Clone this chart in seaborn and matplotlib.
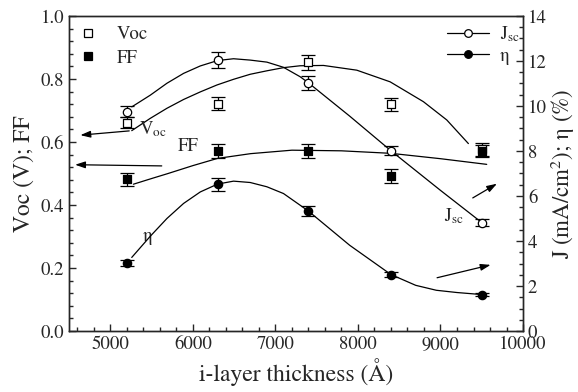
import numpy as np
import pandas as pd
import matplotlib
matplotlib.use('Agg')
import matplotlib.pyplot as plt
from matplotlib.lines import Line2D
from matplotlib.ticker import MultipleLocator, FormatStrFormatter
import seaborn as sns

# measured points (i-layer thickness in Angstrom)
thickness = [5200, 6300, 7400, 8400, 9500]
voc = [0.661, 0.722, 0.853, 0.720, 0.577]
voc_err = [0.018, 0.020, 0.024, 0.021, 0.020]
ff = [0.481, 0.572, 0.572, 0.492, 0.572]
ff_err = [0.020, 0.022, 0.022, 0.021, 0.020]
jsc = [9.74, 12.04, 11.03, 8.01, 4.82]
jsc_err = [0.24, 0.36, 0.31, 0.21, 0.15]
eta = [3.03, 6.53, 5.33, 2.51, 1.62]
eta_err = [0.13, 0.29, 0.24, 0.13, 0.06]

# guide curves
voc_fit_x = [5260, 5484, 5686, 5888, 6090, 6292, 6493, 6695, 6897, 7098, 7300,
             7583, 7986, 8390, 8793, 9076, 9338]
voc_fit_y = [0.636, 0.675, 0.707, 0.735, 0.759, 0.781, 0.799, 0.815, 0.826, 0.836, 0.842,
             0.843, 0.828, 0.791, 0.728, 0.670, 0.595]
ff_fit_x = [5280, 5500, 5700, 6000, 6300, 6700, 7200, 7800, 8400, 9000, 9560]
ff_fit_y = [0.466, 0.484, 0.500, 0.525, 0.548, 0.563, 0.574, 0.572, 0.564, 0.547, 0.529]
jsc_fit_x = [5260, 5484, 5686, 5888, 6090, 6300, 6493, 6695, 6897, 7098, 7300, 7400,
             7900, 8400, 9000, 9500]
jsc_fit_y = [9.96, 10.48, 11.01, 11.45, 11.78, 12.02, 12.10, 12.04, 11.95, 11.72, 11.30, 11.03,
             9.55, 8.01, 6.25, 4.82]
eta_fit_x = [5260, 5484, 5686, 5888, 6090, 6300, 6493, 6695, 6897, 7098, 7300, 7400,
             7900, 8400, 8700, 8950, 9200, 9500]
eta_fit_y = [3.27, 4.21, 5.00, 5.67, 6.18, 6.53, 6.66, 6.60, 6.41, 6.11, 5.59, 5.33,
             3.81, 2.51, 2.03, 1.81, 1.71, 1.62]

sns.set_style('ticks')
plt.rcParams['font.family'] = ['STIXGeneral', 'DejaVu Serif']
plt.rcParams['mathtext.fontset'] = 'stix'

fig = plt.figure(figsize=(5.78, 3.92), dpi=100)
ax = fig.add_axes([0.1194, 0.1556, 0.7855, 0.8036])
ax2 = ax.twinx()

lw = 0.9
# guide curves
sns.lineplot(x=voc_fit_x, y=voc_fit_y, ax=ax, color='black', lw=lw, sort=False)
sns.lineplot(x=ff_fit_x, y=ff_fit_y, ax=ax, color='black', lw=lw, sort=False)
sns.lineplot(x=jsc_fit_x, y=jsc_fit_y, ax=ax2, color='black', lw=lw, sort=False)
sns.lineplot(x=eta_fit_x, y=eta_fit_y, ax=ax2, color='black', lw=lw, sort=False)

# error bars
ekw = dict(fmt='none', ecolor='black', elinewidth=0.9, capsize=5, capthick=0.9, zorder=3)
ax.errorbar(thickness, voc, yerr=voc_err, **ekw)
ax.errorbar(thickness, ff, yerr=ff_err, **ekw)
ax2.errorbar(thickness, jsc, yerr=jsc_err, **ekw)
ax2.errorbar(thickness, eta, yerr=eta_err, **ekw)

# markers
sns.scatterplot(x=thickness, y=voc, ax=ax, marker='s', s=32, facecolor='white',
                edgecolor='black', linewidth=0.9, zorder=4)
sns.scatterplot(x=thickness, y=ff, ax=ax, marker='s', s=32, color='black',
                edgecolor='black', linewidth=0.9, zorder=4)
sns.scatterplot(x=thickness, y=jsc, ax=ax2, marker='o', s=36, facecolor='white',
                edgecolor='black', linewidth=0.9, zorder=4)
sns.scatterplot(x=thickness, y=eta, ax=ax2, marker='o', s=36, color='black',
                edgecolor='black', linewidth=0.9, zorder=4)

# arrows pointing to axes
akw = dict(arrowstyle='-|>,head_length=0.6,head_width=0.2', color='black', lw=0.9)
ax.annotate('', xy=(4604, 0.621), xytext=(5263, 0.636), arrowprops=akw)
ax.annotate('', xy=(4540, 0.528), xytext=(5657, 0.524), arrowprops=akw)
ax.annotate('', xy=(9713, 0.472), xytext=(9362, 0.418), arrowprops=akw)
ax.annotate('', xy=(9640, 0.212), xytext=(8926, 0.167), arrowprops=akw)

# curve labels
ax.text(5520, 0.641, r'V$_{\mathregular{oc}}$', fontsize=13.5, ha='center', va='center')
ax.text(5944, 0.587, 'FF', fontsize=13.5, ha='center', va='center')
ax.text(5448, 0.301, 'η', fontsize=13.5, ha='center', va='center')
ax.text(9160, 0.364, r'J$_{\mathregular{sc}}$', fontsize=13.5, ha='center', va='center')

# axes
ax.set_xlim(4500, 10000)
ax.set_ylim(0, 1.0)
ax2.set_ylim(0, 14)
ax.xaxis.set_major_locator(MultipleLocator(1000))
ax.xaxis.set_minor_locator(MultipleLocator(200))
ax.yaxis.set_major_locator(MultipleLocator(0.2))
ax.yaxis.set_minor_locator(MultipleLocator(0.04))
ax2.yaxis.set_major_locator(MultipleLocator(2))
ax2.yaxis.set_minor_locator(MultipleLocator(0.5))
ax.yaxis.set_major_formatter(FormatStrFormatter('%.1f'))

for a in (ax, ax2):
    a.tick_params(which='major', direction='in', length=5, width=1, labelsize=13.5)
    a.tick_params(which='minor', direction='in', length=3, width=1)
    for sp in a.spines.values():
        sp.set_visible(True)
        sp.set_linewidth(1.0)
ax.tick_params(which='both', top=False, right=False)
ax2.tick_params(which='both', top=False, left=False, right=True)

ax.set_xlabel('i-layer thickness (Å)', fontsize=17)
ax.set_ylabel('Voc (V); FF', fontsize=17)
ax2.set_ylabel(r'J (mA/cm$^{\mathregular{2}}$); η (%)', fontsize=16.5, labelpad=1.5)

# legends
h1 = [Line2D([], [], ls='none', marker='s', ms=5.5, mfc='white', mec='black', mew=0.9),
      Line2D([], [], ls='none', marker='s', ms=5.5, mfc='black', mec='black', mew=0.9)]
ax.legend(h1, ['Voc', 'FF'], loc='upper left', bbox_to_anchor=(-0.015, 1.022),
          frameon=False, fontsize=13.5, handlelength=1.0, handletextpad=1.0, labelspacing=0.35)
h2 = [Line2D([], [], color='black', lw=0.9, marker='o', ms=5.5, mfc='white', mec='black', mew=0.9),
      Line2D([], [], color='black', lw=0.9, marker='o', ms=5.5, mfc='black', mec='black', mew=0.9)]
ax2.legend(h2, [r'J$_{\mathregular{sc}}$', 'η'], loc='upper right', bbox_to_anchor=(1.022, 1.016),
           frameon=False, fontsize=13.5, handlelength=2.2, handletextpad=0.6, labelspacing=0.2,
           borderpad=0.2)

fig.savefig('out.png', dpi=100)
